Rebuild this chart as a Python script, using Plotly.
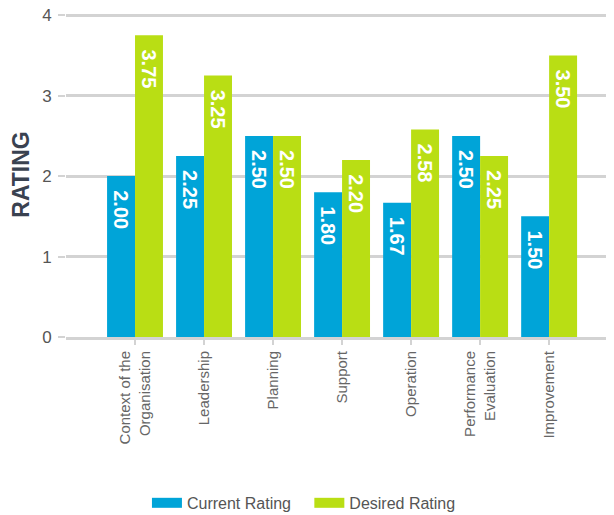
import plotly.graph_objects as go

categories = ["Context of the<br>Organisation", "Leadership", "Planning", "Support",
              "Operation", "Performance<br>Evaluation", "Improvement"]
current_rating = [2.00, 2.25, 2.50, 1.80, 1.67, 2.50, 1.50]
desired_rating = [3.75, 3.25, 2.50, 2.20, 2.58, 2.25, 3.50]
y_ticks = [0, 1, 2, 3, 4]

BLUE = "#00a4d8"
GREEN = "#b9de14"
GRID = "#d3d3d3"
FONT = "Arial, Liberation Sans, sans-serif"
PAD = "\u00a0\u00a0"

fig = go.Figure()
series = [("Current Rating", current_rating, BLUE),
          ("Desired Rating", desired_rating, GREEN)]
for name, vals, col in series:
    fig.add_trace(go.Bar(
        x=categories, y=vals, name=name, marker=dict(color=col, line=dict(width=0)),
        text=[f"{PAD}{v:.2f}" for v in vals], textposition="inside",
        insidetextanchor="end", textangle=90, constraintext="none",
        textfont=dict(family=FONT, size=20, color="white", weight="bold"),
        hoverinfo="skip", showlegend=False,
    ))
# legend proxies (wide rectangular swatches)
for i, (name, vals, col) in enumerate(series):
    label = name + ("\u00a0\u00a0\u00a0" if i == 0 else "")
    fig.add_trace(go.Scatter(
        x=[None], y=[None], mode="lines", name=label,
        line=dict(color=col, width=14), hoverinfo="skip",
    ))

fig.update_layout(
    width=614, height=515,
    margin=dict(l=58, r=8, t=4, b=186),
    barmode="group", bargap=0.19, bargroupgap=0,
    plot_bgcolor="white", paper_bgcolor="white",
    font=dict(family=FONT, color="#666666"),
    showlegend=True,
    legend=dict(orientation="h", xref="container", x=0.482, xanchor="center",
                yref="container", y=0.006, yanchor="bottom",
                font=dict(size=16, color="#555555"), itemwidth=30),
    xaxis=dict(range=[-1, 6.94], tickangle=-90, showline=True, linewidth=3, linecolor=GRID,
               ticks="outside", ticklen=5, tickcolor=GRID, tickwidth=2, automargin=False,
               tickfont=dict(size=15, color="#666666"), showgrid=False),
    yaxis=dict(range=[0, 4.04], tickvals=y_ticks, showgrid=True, gridcolor=GRID, gridwidth=3,
               zeroline=False, ticks="outside", ticklen=7, tickcolor=GRID, tickwidth=2,
               automargin=False, ticklabelstandoff=3, ticklabeloverflow="allow",
               tickfont=dict(size=17, color="#555555"),
               title=dict(text="RATING", font=dict(size=23, color="#3a4250", weight="bold"), standoff=19)),
)

fig.write_html("out.html")
